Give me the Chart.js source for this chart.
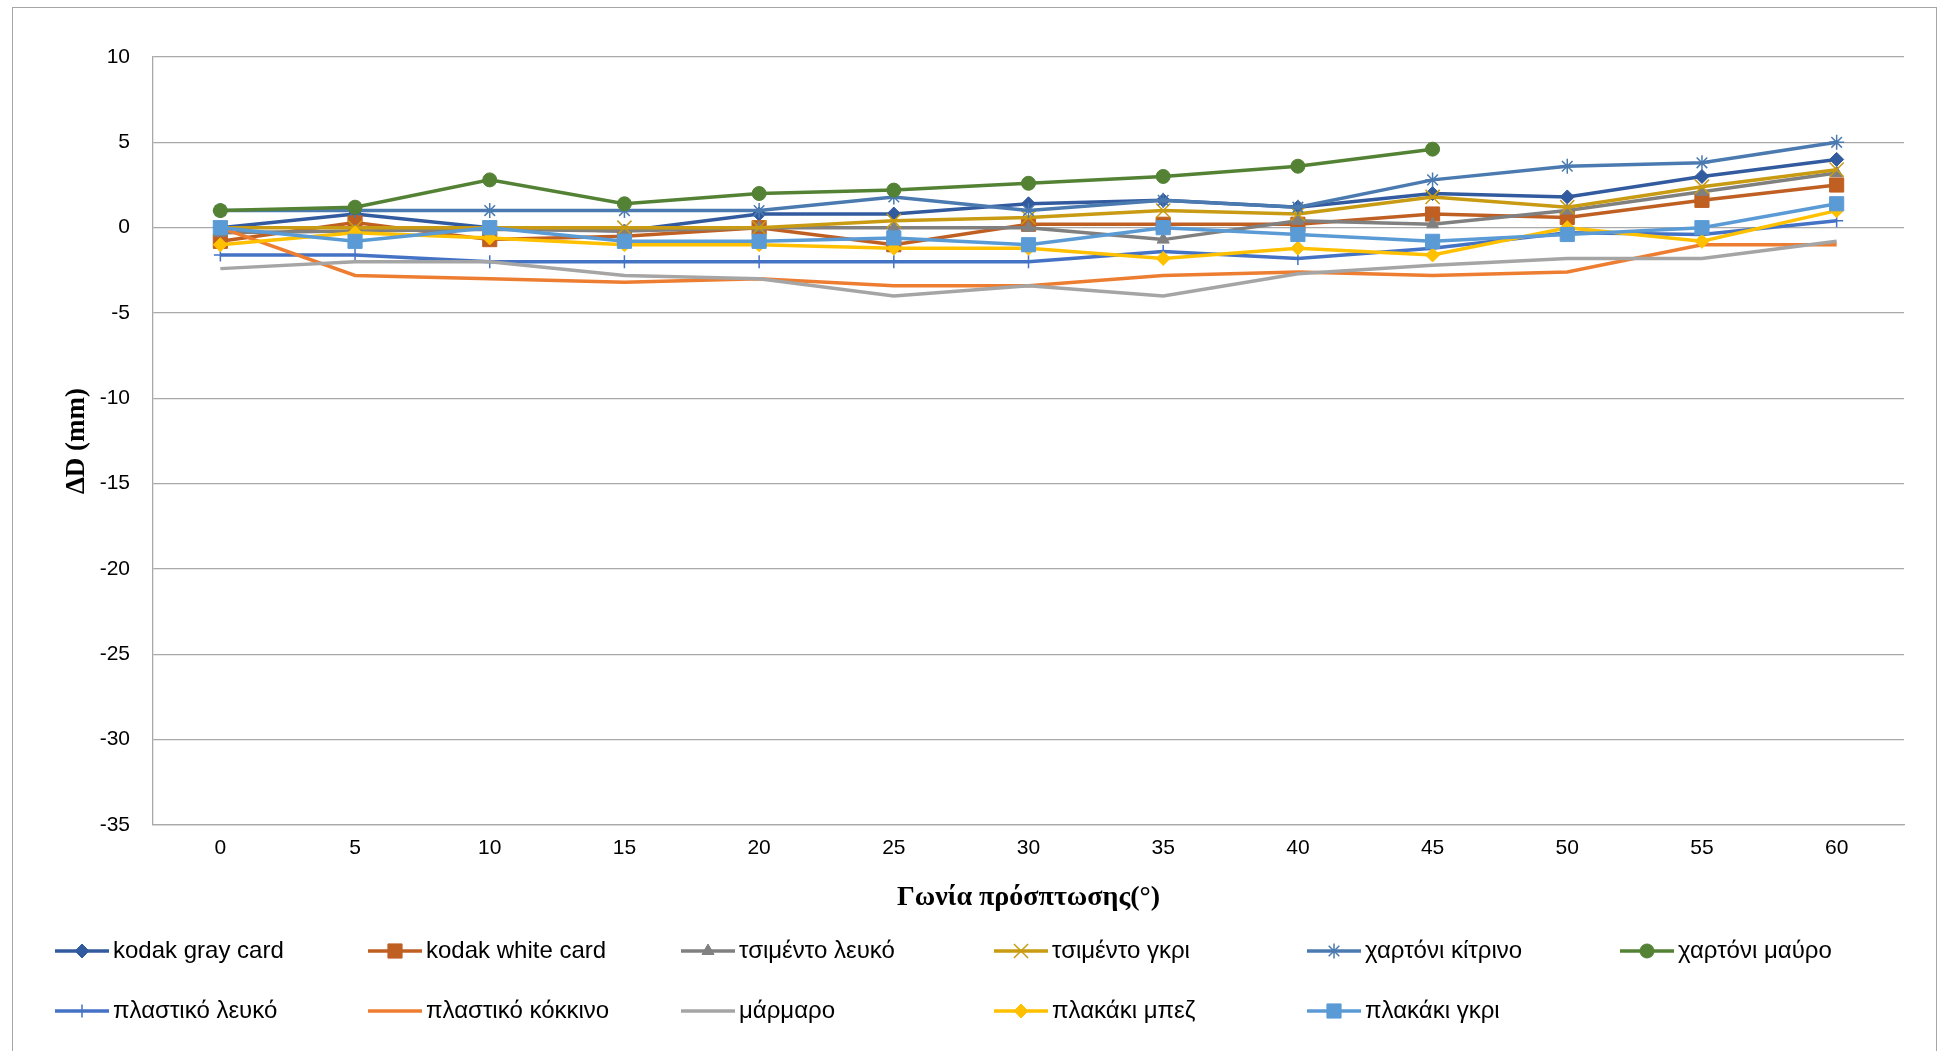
<!DOCTYPE html>
<html>
<head>
<meta charset="utf-8">
<script src="https://cdn.jsdelivr.net/npm/chart.js@4.4.0/dist/chart.umd.min.js"></script>
<style>
  html, body { margin: 0; padding: 0; background: #fff; overflow: hidden; }
  #wrap { position: relative; width: 1939px; height: 1051px; }
</style>
</head>
<body>
<div id="wrap"><canvas id="lineChart"></canvas></div>
<script>
const angles = ["0", "5", "10", "15", "20", "25", "30", "35", "40", "45", "50", "55", "60"];

const kodakGray     = [0, 0.8, 0, -0.2, 0.8, 0.8, 1.4, 1.6, 1.2, 2.0, 1.8, 3.0, 4.0];
const kodakWhite    = [-0.8, 0.3, -0.7, -0.5, 0, -1.0, 0.2, 0.2, 0.2, 0.8, 0.6, 1.6, 2.5];
const cementWhite   = [-0.3, -0.2, -0.1, -0.2, 0, 0, 0, -0.7, 0.4, 0.2, 1.0, 2.1, 3.2];
const cementGray    = [0, 0, 0, 0, 0, 0.4, 0.6, 1.0, 0.8, 1.8, 1.2, 2.4, 3.4];
const cardYellow    = [1.0, 1.0, 1.0, 1.0, 1.0, 1.8, 1.0, 1.6, 1.2, 2.8, 3.6, 3.8, 5.0];
const cardBlack     = [1.0, 1.2, 2.8, 1.4, 2.0, 2.2, 2.6, 3.0, 3.6, 4.6, null, null, null];
const plasticWhite  = [-1.6, -1.6, -2.0, -2.0, -2.0, -2.0, -2.0, -1.4, -1.8, -1.2, -0.3, -0.4, 0.4];
const plasticRed    = [0, -2.8, -3.0, -3.2, -3.0, -3.4, -3.4, -2.8, -2.6, -2.8, -2.6, -1.0, -1.0];
const marble        = [-2.4, -2.0, -2.0, -2.8, -3.0, -4.0, -3.4, -4.0, -2.7, -2.2, -1.8, -1.8, -0.8];
const tileBeige     = [-1.0, -0.3, -0.6, -1.0, -1.0, -1.2, -1.2, -1.8, -1.2, -1.6, 0, -0.8, 1.0];
const tileGray      = [0, -0.8, 0, -0.8, -0.8, -0.6, -1.0, 0, -0.4, -0.8, -0.4, 0, 1.4];

const yTicks = [10, 5, 0, -5, -10, -15, -20, -25, -30, -35];

function series(label, data, color, pointStyle, radius, bw) {
  return {
    label: label,
    data: data,
    borderColor: color,
    backgroundColor: color,
    pointBackgroundColor: color,
    pointBorderColor: color,
    pointStyle: pointStyle,
    pointRadius: radius,
    pointBorderWidth: bw,
    borderWidth: 3.5,
    tension: 0,
    spanGaps: false,
  };
}

const datasets = [
  series("kodak gray card", kodakGray, "#325A9E", "rectRot", 7, 1),
  series("kodak white card", kodakWhite, "#C05F22", "rect", 10, 1),
  series("τσιμέντο λευκό", cementWhite, "#808080", "triangle", 7, 1),
  series("τσιμέντο γκρι", cementGray, "#C89B12", "crossRot", 10, 1.5),
  series("χαρτόνι κίτρινο", cardYellow, "#4A7AB0", "star", 7.5, 1.5),
  series("χαρτόνι μαύρο", cardBlack, "#548235", "circle", 7, 1),
  series("πλαστικό λευκό", plasticWhite, "#4472C4", "cross", 6.5, 1.5),
  series("πλαστικό κόκκινο", plasticRed, "#ED7D31", "line", 0, 1),
  series("μάρμαρο", marble, "#A5A5A5", "line", 0, 1),
  series("πλακάκι μπεζ", tileBeige, "#FFC000", "rectRot", 7, 1),
  series("πλακάκι γκρι", tileGray, "#5B9BD5", "rect", 10, 1),
];
// Excel draws the last series on top
datasets.forEach((d, i) => { d.order = datasets.length - i; });

// border round the whole chart + legend in two rows of six fixed columns
const frameAndLegend = {
  id: "frameAndLegend",
  beforeDraw(chart) {
    const ctx = chart.ctx;
    ctx.save();
    ctx.fillStyle = "#fff";
    ctx.fillRect(0, 0, chart.width, chart.height);
    ctx.strokeStyle = "#a6a6a6";
    ctx.lineWidth = 1;
    ctx.strokeRect(12.5, 7.5, 1924, 1100);
    ctx.restore();
  },
  afterDraw(chart) {
    const ctx = chart.ctx;
    ctx.save();
    chart.data.datasets.forEach((ds, i) => {
      const x0 = 55 + (i % 6) * 313;
      const y = 951 + Math.floor(i / 6) * 60;
      ctx.strokeStyle = ds.borderColor;
      ctx.lineWidth = 3.5;
      ctx.beginPath();
      ctx.moveTo(x0, y);
      ctx.lineTo(x0 + 54, y);
      ctx.stroke();
      if (ds.pointRadius > 0) {
        ctx.fillStyle = ds.pointBackgroundColor;
        ctx.strokeStyle = ds.pointBorderColor;
        ctx.lineWidth = ds.pointBorderWidth;
        Chart.helpers.drawPoint(ctx, {
          pointStyle: ds.pointStyle,
          radius: ds.pointRadius,
          borderWidth: ds.pointBorderWidth,
          rotation: 0,
        }, x0 + 27, y);
      }
      ctx.fillStyle = "#000";
      ctx.font = "24px 'Liberation Sans', Arial, sans-serif";
      ctx.textBaseline = "middle";
      ctx.textAlign = "left";
      ctx.fillText(ds.label, x0 + 58, y);
    });
    ctx.restore();
  },
};

const lineConfig = {
  type: "line",
  data: { labels: angles, datasets: datasets },
  options: {
    responsive: true,
    maintainAspectRatio: false,
    animation: false,
    layout: { padding: { left: 57, top: 57, right: 35, bottom: 132 } },
    plugins: {
      legend: { display: false },
      tooltip: { enabled: false },
    },
    scales: {
      x: {
        type: "category",
        offset: true,
        grid: { display: false, drawTicks: false },
        border: { display: true, color: "#a9a9a9", width: 1.3 },
        ticks: {
          color: "#000",
          padding: 11,
          font: { family: "'Liberation Sans', Arial, sans-serif", size: 21 },
        },
        title: {
          display: true,
          text: "Γωνία πρόσπτωσης(°)",
          color: "#000",
          font: { family: "'Liberation Serif', 'Times New Roman', serif", size: 28, weight: "bold" },
        },
        afterFit: (s) => { s.height = 94; },
      },
      y: {
        min: -35,
        max: 10,
        grid: { color: "#a9a9a9", lineWidth: 1.3, drawTicks: false },
        border: { display: true, color: "#a9a9a9", width: 1.3 },
        afterBuildTicks: (s) => { s.ticks = yTicks.map((v) => ({ value: v })); },
        ticks: {
          color: "#000",
          padding: 23,
          font: { family: "'Liberation Sans', Arial, sans-serif", size: 21 },
        },
        title: {
          display: true,
          text: "ΔD (mm)",
          color: "#000",
          font: { family: "'Liberation Serif', 'Times New Roman', serif", size: 27, weight: "bold" },
        },
        afterFit: (s) => { s.width = 96; },
      },
    },
  },
  plugins: [frameAndLegend],
};

new Chart(document.getElementById("lineChart"), lineConfig);
</script>
</body>
</html>
